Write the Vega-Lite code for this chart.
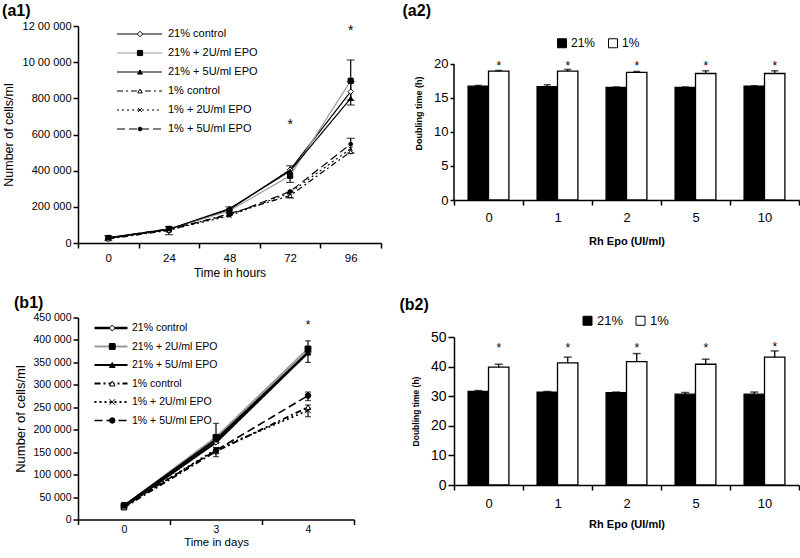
{
  "$schema": "https://vega.github.io/schema/vega-lite/v6.json",
  "background": "white",
  "padding": {"left": 2, "top": 2, "right": 0, "bottom": 0},
  "config": {
    "font": "Liberation Sans",
    "view": {"stroke": null},
    "axis": {"labelFont": "Liberation Sans", "titleFont": "Liberation Sans", "labelColor": "black", "titleColor": "black", "domainColor": "black", "tickColor": "black", "grid": false, "domainWidth": 1.5, "tickWidth": 1.5, "labelOverlap": false},
    "legend": {"labelFont": "Liberation Sans", "labelColor": "black", "padding": 0},
    "title": {"anchor": "start", "frame": "bounds", "fontSize": 16, "fontWeight": "bold", "color": "black", "font": "Liberation Sans"}
  },
  "datasets": {
    "a1": [
      {"t": 0, "s": "21% control", "o": 1, "v": 25000}, {"t": 24, "s": "21% control", "o": 1, "v": 75000}, {"t": 48, "s": "21% control", "o": 1, "v": 185000}, {"t": 72, "s": "21% control", "o": 1, "v": 405000}, {"t": 96, "s": "21% control", "o": 1, "v": 837000},
      {"t": 0, "s": "21% + 2U/ml EPO", "o": 2, "v": 28000}, {"t": 24, "s": "21% + 2U/ml EPO", "o": 2, "v": 78000}, {"t": 48, "s": "21% + 2U/ml EPO", "o": 2, "v": 178000}, {"t": 72, "s": "21% + 2U/ml EPO", "o": 2, "v": 372000}, {"t": 96, "s": "21% + 2U/ml EPO", "o": 2, "v": 897000},
      {"t": 0, "s": "21% + 5U/ml EPO", "o": 3, "v": 30000}, {"t": 24, "s": "21% + 5U/ml EPO", "o": 3, "v": 76000}, {"t": 48, "s": "21% + 5U/ml EPO", "o": 3, "v": 190000}, {"t": 72, "s": "21% + 5U/ml EPO", "o": 3, "v": 398000}, {"t": 96, "s": "21% + 5U/ml EPO", "o": 3, "v": 800000},
      {"t": 0, "s": "1% control", "o": 4, "v": 22000}, {"t": 24, "s": "1% control", "o": 4, "v": 70000}, {"t": 48, "s": "1% control", "o": 4, "v": 162000}, {"t": 72, "s": "1% control", "o": 4, "v": 262000}, {"t": 96, "s": "1% control", "o": 4, "v": 505000},
      {"t": 0, "s": "1% + 2U/ml EPO", "o": 5, "v": 27000}, {"t": 24, "s": "1% + 2U/ml EPO", "o": 5, "v": 72000}, {"t": 48, "s": "1% + 2U/ml EPO", "o": 5, "v": 150000}, {"t": 72, "s": "1% + 2U/ml EPO", "o": 5, "v": 278000}, {"t": 96, "s": "1% + 2U/ml EPO", "o": 5, "v": 522000},
      {"t": 0, "s": "1% + 5U/ml EPO", "o": 6, "v": 28000}, {"t": 24, "s": "1% + 5U/ml EPO", "o": 6, "v": 78000}, {"t": 48, "s": "1% + 5U/ml EPO", "o": 6, "v": 155000}, {"t": 72, "s": "1% + 5U/ml EPO", "o": 6, "v": 285000}, {"t": 96, "s": "1% + 5U/ml EPO", "o": 6, "v": 547000}
    ],
    "a1err": [
      {"t": 0, "lo": 15000, "hi": 40000},
      {"t": 24, "lo": 46000, "hi": 90000},
      {"t": 48, "lo": 165000, "hi": 200000},
      {"t": 72, "lo": 335000, "hi": 427000},
      {"t": 72, "lo": 249000, "hi": 280000},
      {"t": 96, "lo": 763000, "hi": 1012000},
      {"t": 96, "lo": 790000, "hi": 893000},
      {"t": 96, "lo": 498000, "hi": 579000}
    ],
    "a1star": [{"t": 72, "v": 671000}, {"t": 96, "v": 1190000}],
    "b1": [
      {"t": 0, "s": "21% control", "o": 1, "v": 28000}, {"t": 3, "s": "21% control", "o": 1, "v": 172000}, {"t": 4, "s": "21% control", "o": 1, "v": 372000},
      {"t": 0, "s": "21% + 2U/ml EPO", "o": 2, "v": 30000}, {"t": 3, "s": "21% + 2U/ml EPO", "o": 2, "v": 183000}, {"t": 4, "s": "21% + 2U/ml EPO", "o": 2, "v": 380000},
      {"t": 0, "s": "21% + 5U/ml EPO", "o": 3, "v": 31000}, {"t": 3, "s": "21% + 5U/ml EPO", "o": 3, "v": 178000}, {"t": 4, "s": "21% + 5U/ml EPO", "o": 3, "v": 372000},
      {"t": 0, "s": "1% control", "o": 4, "v": 27000}, {"t": 3, "s": "1% control", "o": 4, "v": 152000}, {"t": 4, "s": "1% control", "o": 4, "v": 250000},
      {"t": 0, "s": "1% + 2U/ml EPO", "o": 5, "v": 30000}, {"t": 3, "s": "1% + 2U/ml EPO", "o": 5, "v": 156000}, {"t": 4, "s": "1% + 2U/ml EPO", "o": 5, "v": 243000},
      {"t": 0, "s": "1% + 5U/ml EPO", "o": 6, "v": 31000}, {"t": 3, "s": "1% + 5U/ml EPO", "o": 6, "v": 154000}, {"t": 4, "s": "1% + 5U/ml EPO", "o": 6, "v": 276000}
    ],
    "b1err": [
      {"t": 0, "lo": 22000, "hi": 38000},
      {"t": 3, "lo": 170000, "hi": 214000},
      {"t": 3, "lo": 140000, "hi": 160000},
      {"t": 4, "lo": 350000, "hi": 398000},
      {"t": 4, "lo": 265000, "hi": 284000},
      {"t": 4, "lo": 229000, "hi": 255000}
    ],
    "b1star": [{"t": 4, "v": 441000}],
    "a2": [
      {"epo": "0", "o2": "21%", "v": 16.76, "hi": 16.85}, {"epo": "0", "o2": "1%", "v": 18.95, "hi": 19.05},
      {"epo": "1", "o2": "21%", "v": 16.67, "hi": 16.95}, {"epo": "1", "o2": "1%", "v": 18.95, "hi": 19.2},
      {"epo": "2", "o2": "21%", "v": 16.57, "hi": 16.62}, {"epo": "2", "o2": "1%", "v": 18.76, "hi": 18.9},
      {"epo": "5", "o2": "21%", "v": 16.57, "hi": 16.62}, {"epo": "5", "o2": "1%", "v": 18.6, "hi": 19.0},
      {"epo": "10", "o2": "21%", "v": 16.76, "hi": 16.8}, {"epo": "10", "o2": "1%", "v": 18.6, "hi": 19.0}
    ],
    "a2star": [
      {"epo": "0", "o2": "1%", "v": 20.1}, {"epo": "1", "o2": "1%", "v": 20.1}, {"epo": "2", "o2": "1%", "v": 20.1}, {"epo": "5", "o2": "1%", "v": 20.1}, {"epo": "10", "o2": "1%", "v": 20.1}
    ],
    "b2": [
      {"epo": "0", "o2": "21%", "v": 31.6, "hi": 31.9}, {"epo": "0", "o2": "1%", "v": 39.8, "hi": 40.8},
      {"epo": "1", "o2": "21%", "v": 31.4, "hi": 31.6}, {"epo": "1", "o2": "1%", "v": 41.25, "hi": 43.2},
      {"epo": "2", "o2": "21%", "v": 31.2, "hi": 31.4}, {"epo": "2", "o2": "1%", "v": 41.7, "hi": 44.4},
      {"epo": "5", "o2": "21%", "v": 30.7, "hi": 31.25}, {"epo": "5", "o2": "1%", "v": 40.8, "hi": 42.5},
      {"epo": "10", "o2": "21%", "v": 30.7, "hi": 31.4}, {"epo": "10", "o2": "1%", "v": 43.2, "hi": 45.3}
    ],
    "b2star": [
      {"epo": "0", "o2": "1%", "v": 47.2}, {"epo": "1", "o2": "1%", "v": 47.2}, {"epo": "2", "o2": "1%", "v": 47.2}, {"epo": "5", "o2": "1%", "v": 47.2}, {"epo": "10", "o2": "1%", "v": 47.5}
    ]
  },
  "resolve": {
    "scale": {"x": "independent", "y": "independent", "xOffset": "independent", "stroke": "independent", "strokeDash": "independent", "strokeWidth": "independent", "shape": "independent", "fill": "independent", "size": "independent"},
    "legend": {"stroke": "independent", "strokeDash": "independent", "strokeWidth": "independent", "shape": "independent", "fill": "independent", "size": "independent"}
  },
  "spacing": 17,
  "hconcat": [
    {
      "spacing": 15.5,
      "resolve": {
        "scale": {"x": "independent", "y": "independent", "xOffset": "independent", "stroke": "independent", "strokeDash": "independent", "strokeWidth": "independent", "shape": "independent", "fill": "independent", "size": "independent"},
        "legend": {"stroke": "independent", "strokeDash": "independent", "strokeWidth": "independent", "shape": "independent", "fill": "independent", "size": "independent"}
      },
      "vconcat": [
        {
          "width": 303, "height": 217,
          "title": {"text": "(a1)", "offset": 1.5},
          "layer": [
            {
              "data": {"name": "a1"},
              "mark": {"type": "line"},
              "encoding": {
                "x": {"field": "t", "type": "ordinal", "scale": {"type": "band", "domain": [0, 24, 48, 72, 96], "paddingInner": 0, "paddingOuter": 0},
                      "axis": {"title": "Time in hours", "labelAngle": 0, "tickBand": "extent", "tickSize": 5, "labelFontSize": 11.5, "titleFontSize": 12, "titleFontWeight": "normal", "labelPadding": 4, "titlePadding": 4}},
                "y": {"field": "v", "type": "quantitative", "scale": {"domain": [0, 1200000]},
                      "axis": {"title": "Number of cells/ml", "values": [0, 200000, 400000, 600000, 800000, 1000000, 1200000], "tickCount": 20,
                               "labelExpr": "datum.value >= 1000000 ? floor(datum.value/100000) + ' 00 000' : replace(format(datum.value, ','), ',', ' ')",
                               "labelFontSize": 11, "titleFontSize": 12.5, "titleFontWeight": "normal", "tickSize": 5, "labelPadding": 2, "titlePadding": 7}},
                "stroke": {"field": "s", "type": "nominal",
                           "scale": {"domain": ["21% control", "21% + 2U/ml EPO", "21% + 5U/ml EPO", "1% control", "1% + 2U/ml EPO", "1% + 5U/ml EPO"], "range": ["black", "#9a9a9a", "black", "black", "black", "black"]},
                           "legend": {"orient": "none", "legendX": 38, "legendY": 1.5, "title": null, "symbolType": "stroke", "symbolSize": 2025, "clipHeight": 13, "labelFontSize": 11, "labelOffset": 5, "rowPadding": 6, "labelLimit": 300}},
                "strokeDash": {"field": "s", "type": "nominal",
                           "scale": {"domain": ["21% control", "21% + 2U/ml EPO", "21% + 5U/ml EPO", "1% control", "1% + 2U/ml EPO", "1% + 5U/ml EPO"], "range": [[1, 0], [1, 0], [1, 0], [6, 3, 2, 3], [2, 3], [8, 4]]}},
                "strokeWidth": {"field": "s", "type": "nominal",
                           "scale": {"domain": ["21% control", "21% + 2U/ml EPO", "21% + 5U/ml EPO", "1% control", "1% + 2U/ml EPO", "1% + 5U/ml EPO"], "range": [1.2, 1.2, 2.6, 1, 1, 1]}}
              }
            },
            {
              "data": {"name": "a1err"},
              "mark": {"type": "rule", "color": "black", "strokeWidth": 1.2},
              "encoding": {"x": {"field": "t", "type": "ordinal"}, "y": {"field": "lo", "type": "quantitative"}, "y2": {"field": "hi"}}
            },
            {
              "data": {"name": "a1err"},
              "mark": {"type": "tick", "color": "black", "size": 8, "thickness": 1.2},
              "encoding": {"x": {"field": "t", "type": "ordinal"}, "y": {"field": "lo", "type": "quantitative"}}
            },
            {
              "data": {"name": "a1err"},
              "mark": {"type": "tick", "color": "black", "size": 8, "thickness": 1.2},
              "encoding": {"x": {"field": "t", "type": "ordinal"}, "y": {"field": "hi", "type": "quantitative"}}
            },
            {
              "data": {"name": "a1"},
              "mark": {"type": "point", "filled": true, "stroke": "black", "strokeWidth": 1, "opacity": 1},
              "encoding": {
                "x": {"field": "t", "type": "ordinal"},
                "y": {"field": "v", "type": "quantitative"},
                "shape": {"field": "s", "type": "nominal", "sort": {"field": "o", "op": "min"},
                          "scale": {"range": ["diamond", "square", "triangle-up", "triangle-up", "M-1,-1L1,1M-1,1L1,-1", "circle"]},
                          "legend": {"orient": "none", "legendX": 38, "legendY": 1.5, "title": null, "symbolOffset": 18.5, "clipHeight": 13, "labelFontSize": 11, "labelOffset": 5, "rowPadding": 6, "labelOpacity": 0, "labelExpr": "' '", "symbolStrokeColor": "black", "symbolStrokeWidth": 1}},
                "fill": {"field": "s", "type": "nominal", "sort": {"field": "o", "op": "min"},
                         "scale": {"range": ["white", "black", "black", "white", "white", "black"]}},
                "size": {"field": "s", "type": "nominal", "sort": {"field": "o", "op": "min"},
                         "scale": {"range": [30, 14, 55, 28, 28, 35]}}
              }
            },
            {
              "data": {"name": "a1star"},
              "mark": {"type": "text", "text": "*", "fontSize": 14, "baseline": "middle", "dy": 3, "color": "black"},
              "encoding": {"x": {"field": "t", "type": "ordinal"}, "y": {"field": "v", "type": "quantitative"}}
            }
          ]
        },
        {
          "width": 276, "height": 202,
          "title": {"text": "(b1)", "offset": 1.5},
          "layer": [
            {
              "data": {"name": "b1"},
              "mark": {"type": "line"},
              "encoding": {
                "x": {"field": "t", "type": "ordinal", "scale": {"type": "band", "domain": [0, 3, 4], "paddingInner": 0, "paddingOuter": 0},
                      "axis": {"title": "Time in days", "labelAngle": 0, "tickBand": "extent", "tickSize": 5, "labelFontSize": 10.5, "titleFontSize": 11.5, "titleFontWeight": "normal", "labelPadding": 0, "titlePadding": 1}},
                "y": {"field": "v", "type": "quantitative", "scale": {"domain": [0, 450000]},
                      "axis": {"title": "Number of cells/ml", "values": [0, 50000, 100000, 150000, 200000, 250000, 300000, 350000, 400000, 450000], "tickCount": 20,
                               "labelExpr": "replace(format(datum.value, ','), ',', ' ')",
                               "labelFontSize": 10.5, "titleFontSize": 13, "titleFontWeight": "normal", "tickSize": 5, "labelPadding": 2, "titlePadding": 6}},
                "stroke": {"field": "s", "type": "nominal",
                           "scale": {"domain": ["21% control", "21% + 2U/ml EPO", "21% + 5U/ml EPO", "1% control", "1% + 2U/ml EPO", "1% + 5U/ml EPO"], "range": ["black", "#9a9a9a", "black", "black", "black", "black"]},
                           "legend": {"orient": "none", "legendX": 15, "legendY": 4, "title": null, "symbolType": "stroke", "symbolSize": 1089, "clipHeight": 13, "labelFontSize": 10.5, "labelOffset": 3, "rowPadding": 5.5, "labelLimit": 300}},
                "strokeDash": {"field": "s", "type": "nominal",
                           "scale": {"domain": ["21% control", "21% + 2U/ml EPO", "21% + 5U/ml EPO", "1% control", "1% + 2U/ml EPO", "1% + 5U/ml EPO"], "range": [[1, 0], [1, 0], [1, 0], [6, 3, 2, 3], [2, 3], [8, 4]]}},
                "strokeWidth": {"field": "s", "type": "nominal",
                           "scale": {"domain": ["21% control", "21% + 2U/ml EPO", "21% + 5U/ml EPO", "1% control", "1% + 2U/ml EPO", "1% + 5U/ml EPO"], "range": [2.4, 1.6, 1.8, 1, 1, 1]}}
              }
            },
            {
              "data": {"name": "b1err"},
              "mark": {"type": "rule", "color": "black", "strokeWidth": 1.2},
              "encoding": {"x": {"field": "t", "type": "ordinal"}, "y": {"field": "lo", "type": "quantitative"}, "y2": {"field": "hi"}}
            },
            {
              "data": {"name": "b1err"},
              "mark": {"type": "tick", "color": "black", "size": 6, "thickness": 1.2},
              "encoding": {"x": {"field": "t", "type": "ordinal"}, "y": {"field": "lo", "type": "quantitative"}}
            },
            {
              "data": {"name": "b1err"},
              "mark": {"type": "tick", "color": "black", "size": 6, "thickness": 1.2},
              "encoding": {"x": {"field": "t", "type": "ordinal"}, "y": {"field": "hi", "type": "quantitative"}}
            },
            {
              "data": {"name": "b1"},
              "mark": {"type": "point", "filled": true, "stroke": "black", "strokeWidth": 1, "opacity": 1},
              "encoding": {
                "x": {"field": "t", "type": "ordinal"},
                "y": {"field": "v", "type": "quantitative"},
                "shape": {"field": "s", "type": "nominal", "sort": {"field": "o", "op": "min"},
                          "scale": {"range": ["diamond", "square", "triangle-up", "triangle-up", "M-1,-1L1,1M-1,1L1,-1", "circle"]},
                          "legend": {"orient": "none", "legendX": 15, "legendY": 4, "title": null, "symbolOffset": 14, "clipHeight": 13, "labelFontSize": 10.5, "labelOffset": 3, "rowPadding": 5.5, "labelOpacity": 0, "labelExpr": "' '", "symbolStrokeColor": "black", "symbolStrokeWidth": 1}},
                "fill": {"field": "s", "type": "nominal", "sort": {"field": "o", "op": "min"},
                         "scale": {"range": ["white", "black", "black", "white", "white", "black"]}},
                "size": {"field": "s", "type": "nominal", "sort": {"field": "o", "op": "min"},
                         "scale": {"range": [35, 30, 35, 20, 22, 22]}}
              }
            },
            {
              "data": {"name": "b1star"},
              "mark": {"type": "text", "text": "*", "fontSize": 12, "baseline": "middle", "dy": 3, "color": "black"},
              "encoding": {"x": {"field": "t", "type": "ordinal"}, "y": {"field": "v", "type": "quantitative"}}
            }
          ]
        }
      ]
    },
    {
      "spacing": 50,
      "resolve": {
        "scale": {"x": "independent", "y": "independent", "xOffset": "independent", "stroke": "independent", "strokeDash": "independent", "strokeWidth": "independent", "shape": "independent", "fill": "independent", "size": "independent"},
        "legend": {"stroke": "independent", "strokeDash": "independent", "strokeWidth": "independent", "shape": "independent", "fill": "independent", "size": "independent"}
      },
      "vconcat": [
        {
          "width": 345, "height": 174,
          "title": {"text": "(a2)", "offset": 7, "dx": -12},
          "layer": [
            {
              "data": {"name": "a2"},
              "mark": {"type": "bar", "stroke": "black", "strokeWidth": 1.3},
              "encoding": {
                "x": {"field": "epo", "type": "ordinal", "scale": {"domain": ["0", "1", "2", "5", "10"], "paddingInner": 0, "paddingOuter": 0},
                      "axis": {"title": "Rh Epo (UI/ml)", "labelAngle": 0, "tickBand": "extent", "tickSize": 5, "labelFontSize": 13, "titleFontSize": 11, "titleFontWeight": "bold", "labelPadding": 6, "titlePadding": 11}},
                "xOffset": {"field": "o2", "type": "nominal", "scale": {"domain": ["21%", "1%"], "paddingInner": 0, "paddingOuter": 0.69}},
                "y": {"field": "v", "type": "quantitative", "scale": {"domain": [0, 25.588], "nice": false},
                      "axis": {"title": "Doubling time (h)", "values": [0, 5, 10, 15, 20], "tickCount": 20, "domain": false, "labelFontSize": 13, "titleFontSize": 9, "titleFontWeight": "bold", "tickSize": 4, "labelPadding": 2, "titlePadding": 10}},
                "fill": {"field": "o2", "type": "nominal", "scale": {"domain": ["21%", "1%"], "range": ["black", "white"]},
                         "legend": {"orient": "none", "legendX": 102, "legendY": 11, "direction": "horizontal", "title": null, "symbolType": "square", "symbolSize": 81, "symbolStrokeColor": "black", "symbolStrokeWidth": 1, "labelFontSize": 12, "labelOffset": 3, "columnPadding": 10}}
              }
            },
            {
              "data": {"values": [{}]},
              "mark": {"type": "rule", "color": "black", "strokeWidth": 1.5},
              "encoding": {"x": {"datum": "0", "type": "ordinal", "bandPosition": 0}, "y": {"datum": 0, "type": "quantitative"}, "y2": {"datum": 20}}
            },
            {
              "data": {"name": "a2"},
              "mark": {"type": "rule", "color": "black", "strokeWidth": 1.3},
              "encoding": {"x": {"field": "epo", "type": "ordinal"}, "xOffset": {"field": "o2", "type": "nominal"}, "y": {"field": "v", "type": "quantitative"}, "y2": {"field": "hi"}}
            },
            {
              "data": {"name": "a2"},
              "mark": {"type": "tick", "color": "black", "size": 7, "thickness": 1.5},
              "encoding": {"x": {"field": "epo", "type": "ordinal"}, "xOffset": {"field": "o2", "type": "nominal"}, "y": {"field": "hi", "type": "quantitative"}}
            },
            {
              "data": {"name": "a2star"},
              "mark": {"type": "text", "text": "*", "fontSize": 12, "baseline": "middle", "dy": 3, "color": "black"},
              "encoding": {"x": {"field": "epo", "type": "ordinal"}, "xOffset": {"field": "o2", "type": "nominal"}, "y": {"field": "v", "type": "quantitative"}}
            }
          ]
        },
        {
          "width": 345, "height": 148,
          "title": {"text": "(b2)", "offset": 1.5, "dx": -12},
          "layer": [
            {
              "data": {"name": "b2"},
              "mark": {"type": "bar", "stroke": "black", "strokeWidth": 1.3},
              "encoding": {
                "x": {"field": "epo", "type": "ordinal", "scale": {"domain": ["0", "1", "2", "5", "10"], "paddingInner": 0, "paddingOuter": 0},
                      "axis": {"title": "Rh Epo (UI/ml)", "labelAngle": 0, "tickBand": "extent", "tickSize": 5, "labelFontSize": 13, "titleFontSize": 11, "titleFontWeight": "bold", "labelPadding": 7, "titlePadding": 8}},
                "xOffset": {"field": "o2", "type": "nominal", "scale": {"domain": ["21%", "1%"], "paddingInner": 0, "paddingOuter": 0.69}},
                "y": {"field": "v", "type": "quantitative", "scale": {"domain": [0, 50]},
                      "axis": {"title": "Doubling time (h)", "values": [0, 10, 20, 30, 40, 50], "tickCount": 20, "labelFontSize": 14, "titleFontSize": 8.5, "titleFontWeight": "bold", "tickSize": 6, "labelPadding": 2, "titlePadding": 10}},
                "fill": {"field": "o2", "type": "nominal", "scale": {"domain": ["21%", "1%"], "range": ["black", "white"]},
                         "legend": {"orient": "none", "legendX": 127, "legendY": -23, "direction": "horizontal", "title": null, "symbolType": "square", "symbolSize": 81, "symbolStrokeColor": "black", "symbolStrokeWidth": 1, "labelFontSize": 13, "labelOffset": 3, "columnPadding": 10}}
              }
            },
            {
              "data": {"name": "b2"},
              "mark": {"type": "rule", "color": "black", "strokeWidth": 1.3},
              "encoding": {"x": {"field": "epo", "type": "ordinal"}, "xOffset": {"field": "o2", "type": "nominal"}, "y": {"field": "v", "type": "quantitative"}, "y2": {"field": "hi"}}
            },
            {
              "data": {"name": "b2"},
              "mark": {"type": "tick", "color": "black", "size": 8, "thickness": 1.5},
              "encoding": {"x": {"field": "epo", "type": "ordinal"}, "xOffset": {"field": "o2", "type": "nominal"}, "y": {"field": "hi", "type": "quantitative"}}
            },
            {
              "data": {"name": "b2star"},
              "mark": {"type": "text", "text": "*", "fontSize": 12, "baseline": "middle", "dy": 3, "color": "black"},
              "encoding": {"x": {"field": "epo", "type": "ordinal"}, "xOffset": {"field": "o2", "type": "nominal"}, "y": {"field": "v", "type": "quantitative"}}
            }
          ]
        }
      ]
    }
  ]
}
